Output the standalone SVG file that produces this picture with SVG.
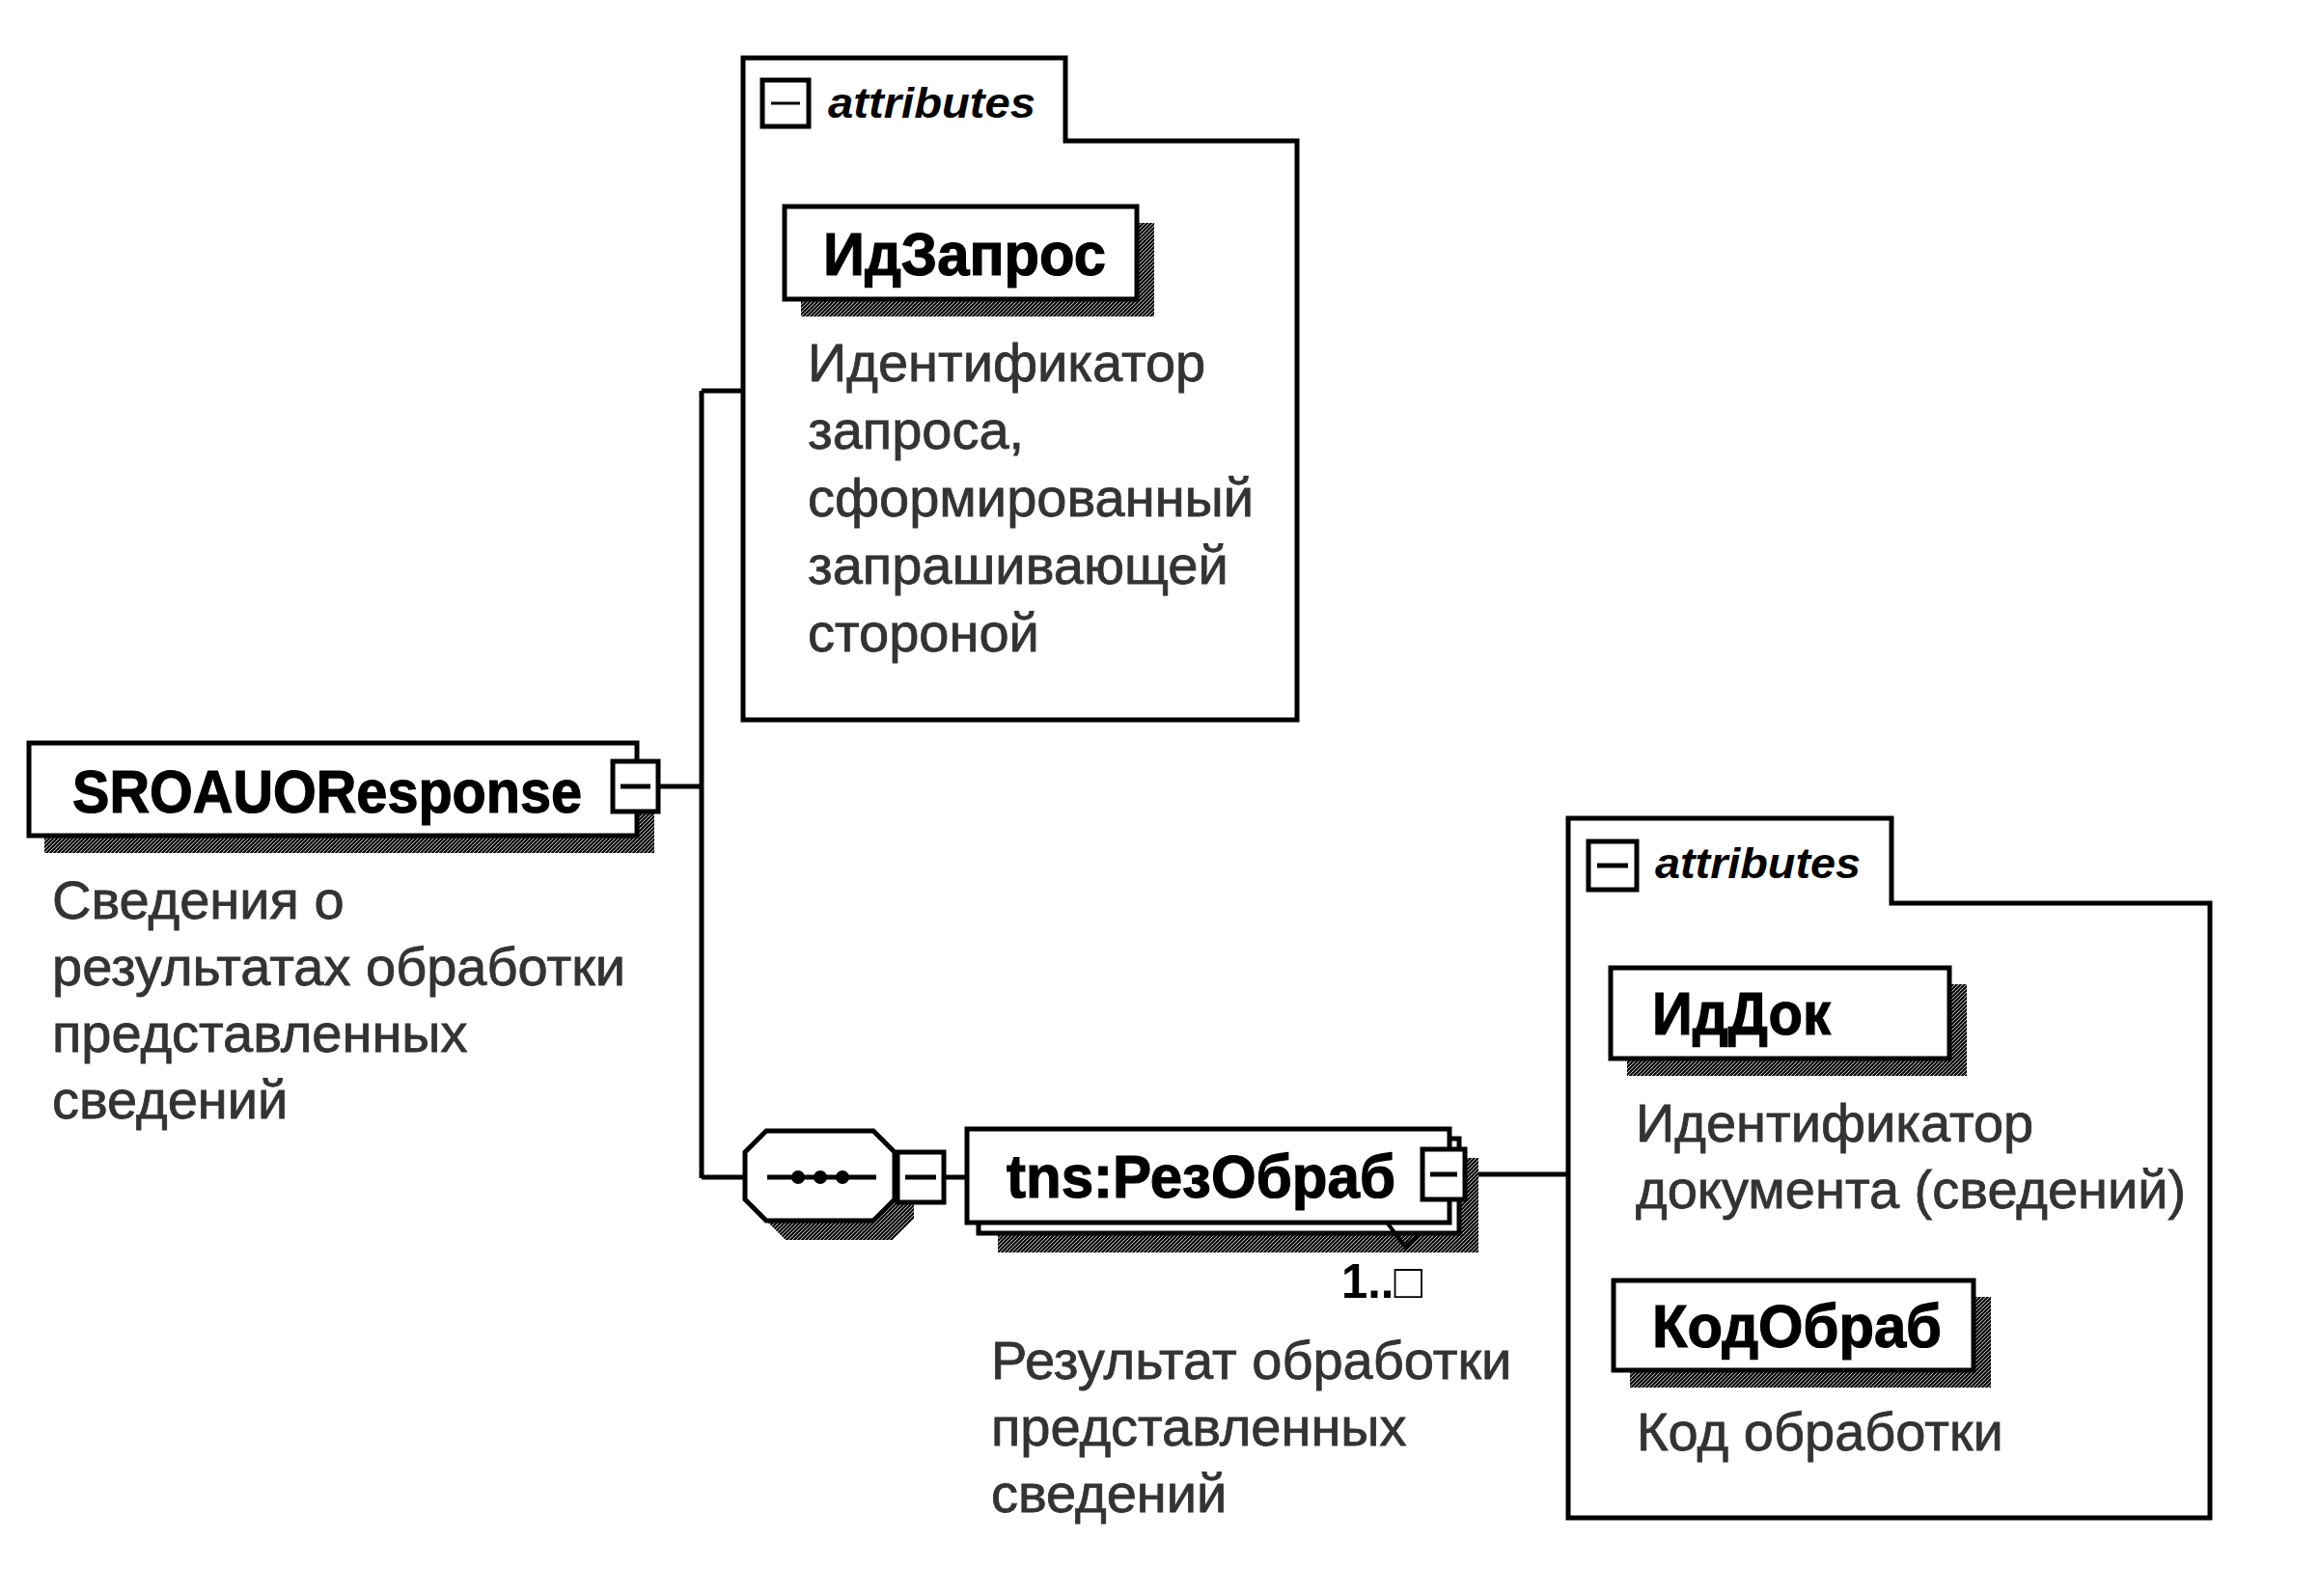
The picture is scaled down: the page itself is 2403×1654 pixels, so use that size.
<svg xmlns="http://www.w3.org/2000/svg" width="2403" height="1654" viewBox="0 0 2403 1654">
<defs>
<pattern id="hatch" width="4" height="4" patternUnits="userSpaceOnUse">
<rect width="4" height="4" fill="#ffffff"/>
<path d="M0,4 L4,0 M-1,1 L1,-1 M3,5 L5,3" stroke="#000" stroke-width="2.2"/>
</pattern>
<style>
.ln{fill:none;stroke:#000;stroke-width:5}
.box{fill:#fff;stroke:#000;stroke-width:5}
.shd{fill:url(#hatch);stroke:none}
.btn{fill:#fff;stroke:#000;stroke-width:5}
.title{font-family:"Liberation Sans",Arial,sans-serif;font-weight:bold;font-size:63px;fill:#000;stroke:#000;stroke-width:1.2}
.desc{font-family:"Liberation Sans",Arial,sans-serif;font-size:56px;fill:#333;stroke:#333;stroke-width:0.8}
.attr{font-family:"Liberation Sans",Arial,sans-serif;font-weight:bold;font-style:italic;font-size:44px;fill:#000}
.card{font-family:"Liberation Sans","DejaVu Sans",sans-serif;font-weight:bold;font-size:50px;fill:#000}
</style>
</defs>
<rect width="2403" height="1654" fill="#fff"/>

<g id="connectors">
<path class="ln" d="M682,815 H727 M727,405 V1221 M727,405 H770 M727,1220 H772"/>
<path class="ln" d="M978,1220 H1002"/>
<path class="ln" d="M1518,1217 H1625"/>
</g>

<g id="node-SROAUOResponse">
<rect class="shd" x="46" y="788" width="632" height="96"/>
<rect class="box" x="30" y="770" width="630" height="96"/>
<text class="title" x="75" y="842" textLength="528" lengthAdjust="spacingAndGlyphs">SROAUOResponse</text>
<rect class="btn" x="635" y="789" width="47" height="52"/>
<path class="ln" d="M643,815 H674"/>
<text class="desc" x="54" y="952">Сведения о</text>
<text class="desc" x="54" y="1021">результатах обработки</text>
<text class="desc" x="54" y="1090">представленных</text>
<text class="desc" x="54" y="1159">сведений</text>
</g>

<g id="attributes-1">
<path class="box" d="M770,60 H1104 V146 H1344 V746 H770 Z"/>
<rect x="790" y="83" width="48" height="48" fill="#fff" stroke="#000" stroke-width="5"/>
<path d="M799,107 H829" stroke="#000" stroke-width="3"/>
<text class="attr" x="858" y="122" textLength="215" lengthAdjust="spacingAndGlyphs">attributes</text>
</g>

<g id="node-IdZapros">
<rect class="shd" x="830" y="231" width="366" height="97"/>
<rect class="box" x="813" y="214" width="365" height="96"/>
<text class="title" x="853" y="285" textLength="293" lengthAdjust="spacingAndGlyphs">ИдЗапрос</text>
<text class="desc" x="837" y="395">Идентификатор</text>
<text class="desc" x="837" y="465">запроса,</text>
<text class="desc" x="837" y="535">сформированный</text>
<text class="desc" x="837" y="605">запрашивающей</text>
<text class="desc" x="837" y="675">стороной</text>
</g>

<g id="node-sequence">
<polygon class="shd" points="814,1192 925,1192 947,1214 947,1263 925,1285 814,1285 792,1263 792,1214"/>
<polygon class="box" points="794,1172 905,1172 927,1194 927,1243 905,1265 794,1265 772,1243 772,1194"/>
<path class="ln" d="M795,1220 H908"/>
<circle cx="827" cy="1220" r="7"/>
<circle cx="850" cy="1220" r="7"/>
<circle cx="873" cy="1220" r="7"/>
<rect class="btn" x="930" y="1194" width="48" height="52"/>
<path class="ln" d="M938,1220 H970"/>
</g>

<g id="node-RezObrab">
<rect class="shd" x="1034" y="1200" width="498" height="98"/>
<rect class="box" x="1014" y="1180" width="498" height="98"/>
<rect class="box" x="1002" y="1170" width="500" height="97"/>
<polyline points="1438,1268 1456,1292 1472,1278" fill="none" stroke="#000" stroke-width="4"/>
<text class="title" x="1043" y="1241" textLength="403" lengthAdjust="spacingAndGlyphs">tns:РезОбраб</text>
<rect class="btn" x="1474" y="1191" width="44" height="52"/>
<path class="ln" d="M1482,1217 H1510"/>
<text class="card" x="1390" y="1345" textLength="84" lengthAdjust="spacingAndGlyphs">1..□</text>
<text class="desc" x="1027" y="1429">Результат обработки</text>
<text class="desc" x="1027" y="1498">представленных</text>
<text class="desc" x="1027" y="1567">сведений</text>
</g>

<g id="attributes-2">
<path class="box" d="M1625,848 H1960 V936 H2290 V1573 H1625 Z"/>
<rect x="1646" y="872" width="50" height="50" fill="#fff" stroke="#000" stroke-width="5"/>
<path d="M1655,897 H1687" stroke="#000" stroke-width="5"/>
<text class="attr" x="1715" y="910" textLength="213" lengthAdjust="spacingAndGlyphs">attributes</text>
</g>

<g id="node-IdDok">
<rect class="shd" x="1686" y="1020" width="352" height="95"/>
<rect class="box" x="1669" y="1003" width="351" height="94"/>
<text class="title" x="1712" y="1072" textLength="185" lengthAdjust="spacingAndGlyphs">ИдДок</text>
<text class="desc" x="1695" y="1183">Идентификатор</text>
<text class="desc" x="1695" y="1252">документа (сведений)</text>
</g>

<g id="node-KodObrab">
<rect class="shd" x="1689" y="1344" width="374" height="94"/>
<rect class="box" x="1672" y="1327" width="373" height="93"/>
<text class="title" x="1712" y="1396" textLength="300" lengthAdjust="spacingAndGlyphs">КодОбраб</text>
<text class="desc" x="1696" y="1503">Код обработки</text>
</g>
</svg>
